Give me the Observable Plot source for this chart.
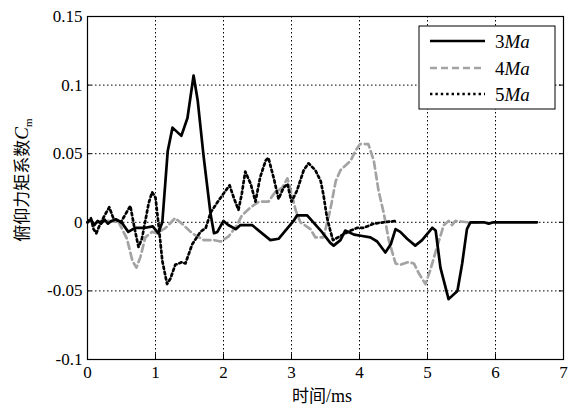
<!DOCTYPE html>
<html><head><meta charset="utf-8">
<script src="https://cdn.jsdelivr.net/npm/d3@7"></script>
<script src="https://cdn.jsdelivr.net/npm/@observablehq/plot@0.6"></script>
<style>
body{margin:0;background:#fff}
</style>
</head><body><div id="chart"></div>
<script>
const xTicks = [0,1,2,3,4,5,6,7];
const xTickLabels = ["0","1","2","3","4","5","6","7"];
const yTicks = [-0.1,-0.05,0,0.05,0.1,0.15];
const yTickLabels = ["-0.1","-0.05","0","0.05","0.1","0.15"];
const seriesNames = ["3","4","5"];

const t3 = [0,0.05,0.1,0.15,0.2,0.25,0.3,0.35,0.42,0.5,0.6,0.7,0.85,0.96,1.04,1.1,1.18,1.25,1.38,1.47,1.56,1.62,1.71,1.81,1.86,1.91,2.0,2.07,2.18,2.25,2.42,2.69,2.81,3.03,3.08,3.23,3.43,3.57,3.62,3.72,3.79,3.92,4.04,4.16,4.26,4.38,4.46,4.53,4.6,4.7,4.82,4.92,5.07,5.12,5.19,5.31,5.44,5.51,5.58,5.63,5.83,5.9,5.97,6.61];
const v3 = [0,0.002,-0.002,0.001,-0.001,0.002,-0.001,0.001,0.002,0,-0.007,-0.004,-0.004,-0.003,-0.008,0.0,0.052,0.069,0.063,0.076,0.107,0.089,0.047,0.006,-0.008,-0.007,0.001,-0.002,-0.005,-0.002,-0.002,-0.013,-0.012,0.001,0.005,0.005,-0.006,-0.015,-0.017,-0.013,-0.006,-0.009,-0.01,-0.011,-0.014,-0.022,-0.016,-0.005,-0.007,-0.012,-0.017,-0.013,-0.004,-0.006,-0.033,-0.056,-0.05,-0.03,-0.005,0,0,-0.001,0,0];

const t4 = [0,0.05,0.1,0.2,0.3,0.46,0.58,0.66,0.72,0.78,0.85,0.95,1.02,1.15,1.29,1.39,1.54,1.71,1.86,1.96,2.08,2.2,2.27,2.4,2.52,2.66,2.76,2.86,2.94,2.99,3.06,3.13,3.28,3.35,3.47,3.57,3.65,3.72,3.87,3.94,4.01,4.13,4.21,4.28,4.36,4.43,4.53,4.6,4.72,4.8,4.87,4.97,5.04,5.14,5.24,5.31,5.36,5.41,5.6,5.8];
const v4 = [0,0.001,-0.001,0.001,0.001,0,-0.012,-0.028,-0.033,-0.025,-0.011,-0.007,-0.008,-0.004,0.003,-0.001,-0.008,-0.013,-0.013,-0.014,-0.01,-0.002,0.005,0.011,0.015,0.015,0.022,0.025,0.032,0.023,0.009,0,-0.005,-0.011,-0.011,0.009,0.03,0.038,0.045,0.052,0.057,0.057,0.045,0.023,0.006,-0.013,-0.03,-0.031,-0.029,-0.03,-0.037,-0.045,-0.035,-0.018,-0.002,0.001,-0.002,0.001,0,0];

const t5 = [0,0.05,0.09,0.13,0.18,0.24,0.32,0.38,0.49,0.56,0.63,0.69,0.75,0.8,0.85,0.9,0.95,1.0,1.05,1.1,1.17,1.22,1.29,1.39,1.44,1.54,1.66,1.74,1.81,1.93,2.03,2.09,2.15,2.22,2.27,2.32,2.4,2.47,2.54,2.62,2.66,2.74,2.81,2.88,2.94,3.0,3.08,3.18,3.25,3.35,3.43,3.47,3.52,3.57,3.61,3.72,3.87,3.97,4.06,4.21,4.35,4.55];
const v5 = [0,0.003,-0.005,-0.008,-0.002,0.004,0.011,0.003,0,0.006,0.012,-0.004,-0.018,-0.012,0.001,0.014,0.022,0.018,-0.004,-0.028,-0.045,-0.041,-0.031,-0.029,-0.03,-0.016,-0.007,-0.004,0.007,0.016,0.023,0.027,0.018,0.009,0.021,0.037,0.028,0.015,0.033,0.045,0.047,0.032,0.017,0.025,0.028,0.015,0.023,0.038,0.043,0.038,0.03,0.02,0.004,-0.006,-0.013,-0.01,-0.006,-0.004,-0.004,-0.001,0,0.001];

const d3s = t3.map((t,i)=>({t, v:v3[i]}));
const d4s = t4.map((t,i)=>({t, v:v4[i]}));
const d5s = t5.map((t,i)=>({t, v:v5[i]}));

const serif = "Liberation Serif, Times New Roman, serif";
const grid = {stroke:"black", strokeOpacity:1, strokeWidth:1, strokeDasharray:"1.5,2.5"};

const svg = Plot.plot({
  width: 579, height: 408,
  marginLeft: 87, marginRight: 16, marginTop: 16, marginBottom: 49,
  style: {fontFamily: serif, fontSize: "17px", color: "black", background: "white"},
  x: {domain: [0,7]},
  y: {domain: [-0.1,0.15]},
  marks: [
    Plot.ruleX(xTicks.slice(1,-1), {x: d=>d, ...grid}),
    Plot.ruleY(yTicks.slice(1,-1), {y: d=>d, ...grid}),
    Plot.axisX({ticks: xTicks, tickSize: 0, tickPadding: 6, tickFormat: (d,i)=>xTickLabels[i], label: null, fontSize: 17, fontFamily: serif}),
    Plot.axisY({ticks: yTicks, tickSize: 0, tickPadding: 5, tickFormat: (d,i)=>yTickLabels[i], label: null, fontSize: 17, fontFamily: serif}),
    Plot.ruleX(xTicks, {x: d=>d, y1: -0.1, y2: -0.096, stroke: "black"}),
    Plot.ruleY(yTicks, {y: d=>d, x1: 0, x2: 0.06, stroke: "black"}),
    Plot.ruleY(yTicks, {y: d=>d, x1: 6.94, x2: 7, stroke: "black"}),
    Plot.line(d4s, {x:"t", y:"v", stroke:"#a3a3a3", strokeWidth:2.7, strokeDasharray:"7,4"}),
    Plot.line(d5s, {x:"t", y:"v", stroke:"black", strokeWidth:2.7, strokeDasharray:"2.4,3"}),
    Plot.line(d3s, {x:"t", y:"v", stroke:"black", strokeWidth:2.7}),
    Plot.frame({stroke:"black", strokeWidth:1.2})
  ]
});

const s = d3.select(svg);
const lg = s.append("g").attr("text-anchor","start");
lg.append("rect").attr("x",419).attr("y",26).attr("width",136).attr("height",83)
  .attr("fill","white").attr("stroke","black").attr("stroke-width",1);
const styles = [
  {stroke:"black", dash:null},
  {stroke:"#a3a3a3", dash:"7,4"},
  {stroke:"black", dash:"2.4,3"}
];
const rowsY = [41, 68, 94];
seriesNames.forEach((n,i)=>{
  const l = lg.append("line").attr("x1",430).attr("x2",485).attr("y1",rowsY[i]).attr("y2",rowsY[i])
    .attr("stroke",styles[i].stroke).attr("stroke-width",2.7);
  if (styles[i].dash) l.attr("stroke-dasharray", styles[i].dash);
  const tx = lg.append("text").attr("x",495).attr("y",rowsY[i]).attr("dy","0.35em")
    .attr("text-anchor","start").attr("font-family",serif)
    .attr("font-size",19).attr("fill","black");
  tx.append("tspan").text(n);
  tx.append("tspan").attr("font-style","italic").text("Ma");
});
s.append("text").attr("x",322).attr("y",396).attr("dy","0.35em").attr("text-anchor","middle")
  .attr("font-size",17).attr("fill","black")
  .call(t=>{
    t.append("tspan").attr("font-family","Noto Sans CJK SC").text("时间");
    t.append("tspan").attr("font-family",serif).attr("font-size",18).text("/ms");
  });
s.append("text").attr("transform","translate(22,180) rotate(-90)").attr("dy","0.35em")
  .attr("text-anchor","middle").attr("font-size",17).attr("fill","black")
  .call(t=>{
    t.append("tspan").attr("font-family","Noto Sans CJK SC").text("俯仰力矩系数");
    t.append("tspan").attr("font-family",serif).attr("font-style","italic").attr("font-size",19).text("C");
    t.append("tspan").attr("font-family",serif).attr("font-size",11).attr("dy","4").text("m");
  });

document.getElementById("chart").appendChild(svg);
</script>
</body></html>
